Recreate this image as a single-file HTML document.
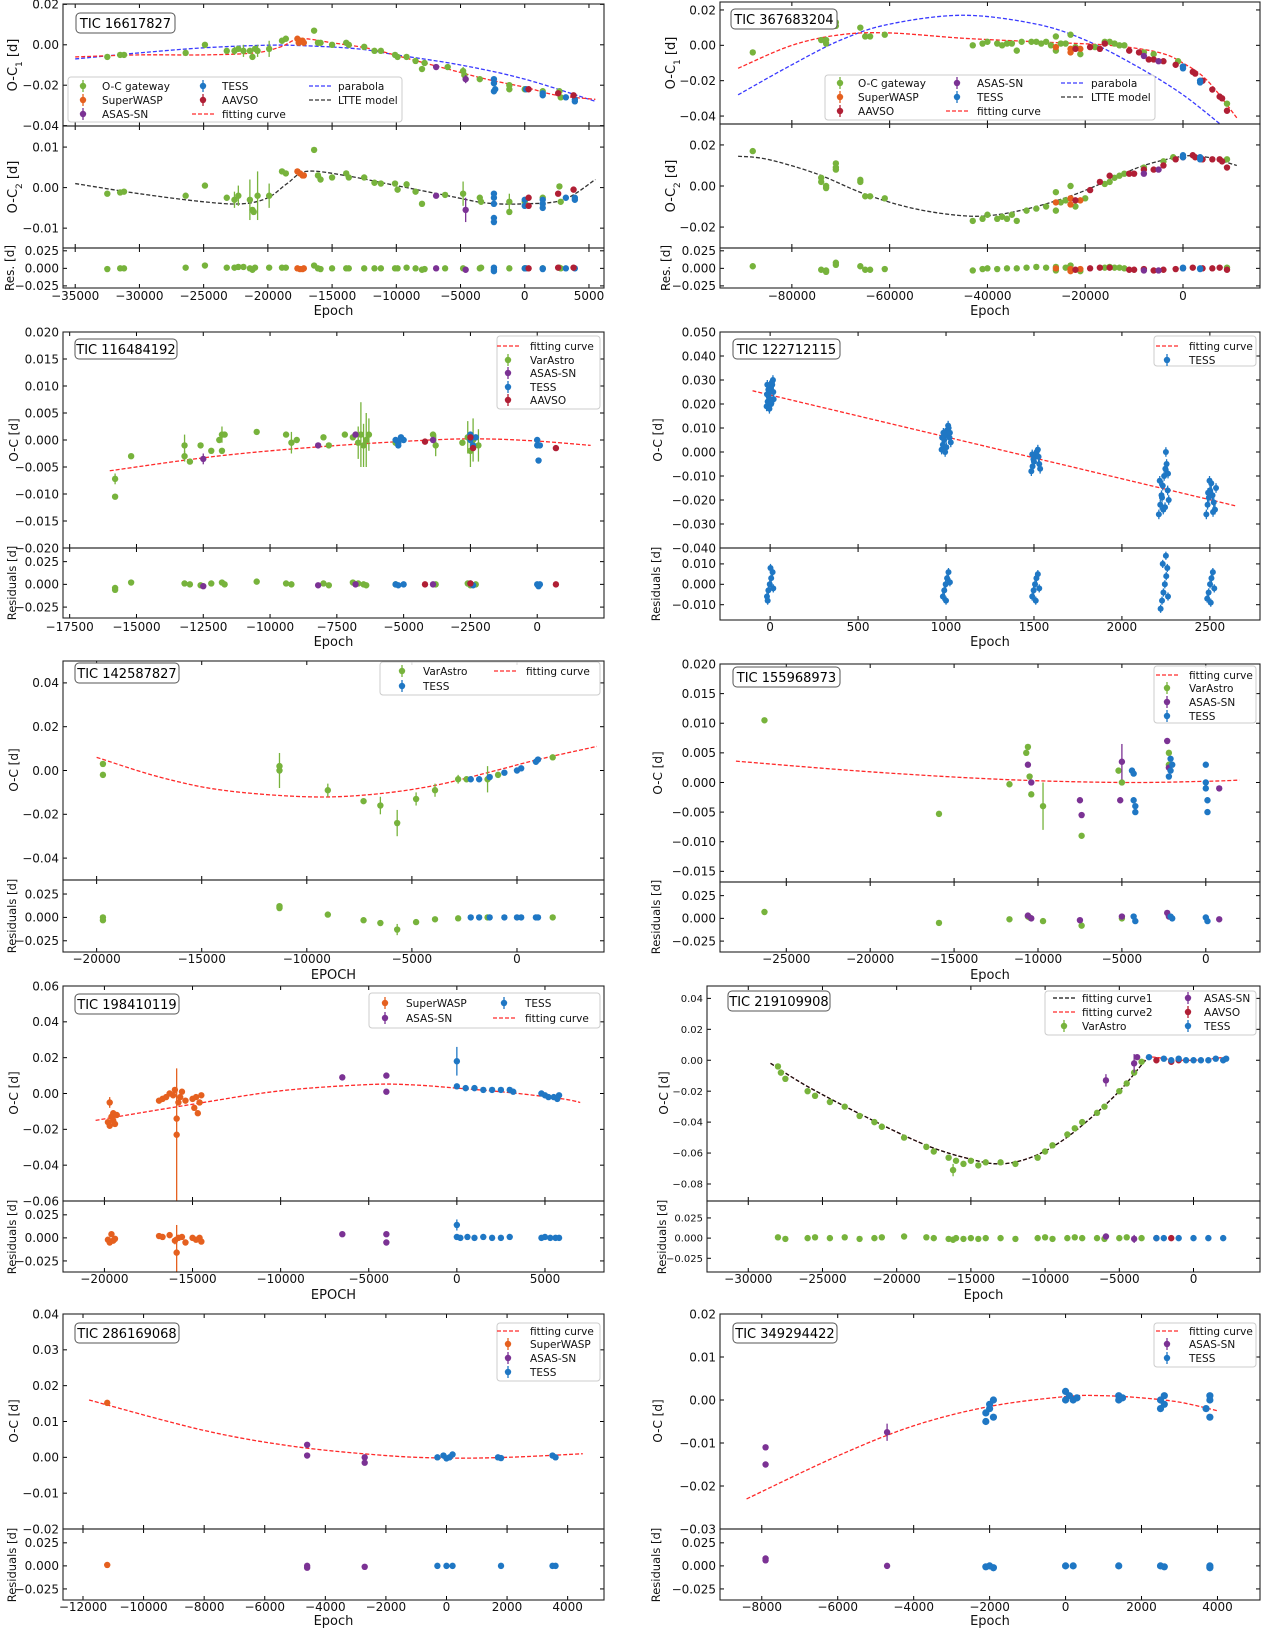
<!DOCTYPE html>
<html><head><meta charset="utf-8"><title>O-C diagrams</title>
<style>
html,body{margin:0;padding:0;background:#fff;}
svg{display:block;font-family:"DejaVu Sans","Liberation Sans",sans-serif;}
</style></head>
<body>
<svg id="fig" width="1262" height="1628" viewBox="0 0 1262 1628" xmlns="http://www.w3.org/2000/svg"><defs id="defs"></defs></svg>
<script>
// ======================= DATA =======================
// Panel 1: TIC 16617827
const p1XTicks=[-35000,-30000,-25000,-20000,-15000,-10000,-5000,0,5000];
const p1TopGateway=[[-32500,-0.006],[-31500,-0.005],[-31200,-0.005],[-26400,-0.004],[-24900,0.0],[-23200,-0.003],[-22600,-0.003,0.002],[-22300,-0.002],[-21900,-0.003,0.003],[-21400,-0.003],[-21200,-0.006],[-21000,-0.002],[-20800,-0.003,0.003],[-19900,-0.002,0.004],[-18900,0.002],[-18600,0.003],[-16400,0.007],[-16100,0.001],[-15900,0.001],[-15000,0.0],[-13900,0.001],[-13700,0.0],[-12500,-0.001],[-11700,-0.003],[-11200,-0.003],[-10100,-0.005],[-9900,-0.006],[-9200,-0.006],[-8500,-0.008],[-8000,-0.012],[-7800,-0.009],[-6000,-0.011],[-4800,-0.013,0.002],[-4700,-0.015],[-3500,-0.017],[-1200,-0.02],[-1200,-0.022],[0,-0.022],[1400,-0.023],[2700,-0.023],[2800,-0.026]];
const p1TopWasp=[[-17700,0.003],[-17500,0.002],[-17300,0.002],[-17200,0.001],[-17600,0.001]];
const p1TopAsas=[[-6900,-0.011],[-4600,-0.017,0.002]];
const p1TopTess=[[-2400,-0.017],[-2400,-0.019],[-2400,-0.023],[-2300,-0.022],[100,-0.022],[1400,-0.024],[1400,-0.025],[3200,-0.026],[3900,-0.027],[3900,-0.028]];
const p1TopAavso=[[300,-0.022],[2600,-0.024],[3800,-0.025]];
const p1Parabola=[[-35000,-0.007],[-30000,-0.004],[-25000,-0.0015],[-20000,-0.0002],[-17000,-0.0005],[-13000,-0.002],[-10000,-0.005],[-5000,-0.01],[0,-0.017],[5500,-0.028]];
const p1Fit=[[-35000,-0.006],[-30000,-0.005],[-25000,-0.005],[-21000,-0.004],[-19000,-0.001],[-17500,0.003],[-15000,0.001],[-12000,-0.002],[-9000,-0.007],[-6000,-0.012],[-3000,-0.017],[0,-0.021],[2500,-0.025],[5500,-0.027]];
const p1MidGateway=[[-32500,-0.0015],[-31500,-0.0012],[-31200,-0.001],[-26400,-0.002],[-24900,0.0005],[-23200,-0.0025],[-22600,-0.003,0.002],[-22300,-0.002,0.0025],[-21400,-0.003,0.005],[-21200,-0.0055],[-21100,-0.006],[-20800,-0.002,0.006],[-19900,-0.002,0.003],[-18900,0.004],[-18600,0.0035],[-16400,0.0093],[-16100,0.003],[-15900,0.002],[-15000,0.0025],[-13900,0.0035],[-13700,0.0025],[-12500,0.0025],[-11700,0.0012],[-11200,0.001],[-10100,0.001],[-9900,-0.0005],[-9200,0.0008],[-8500,-0.001],[-8000,-0.004],[-6200,-0.0018],[-4800,-0.0015,0.003],[-3500,-0.0025],[-3400,-0.0035],[-1200,-0.0035,0.002],[-1200,-0.006],[0,-0.0035],[1400,-0.0025],[2700,0.0003],[2800,-0.0035]];
const p1MidWasp=[[-17700,0.004],[-17500,0.0035],[-17300,0.003],[-17200,0.003]];
const p1MidAsas=[[-6900,-0.002],[-4600,-0.0055,0.003]];
const p1MidTess=[[-2400,-0.0015],[-2400,-0.0025],[-2400,-0.004],[-2400,-0.0075],[-2400,-0.0085],[0,-0.003],[0,-0.0045],[1400,-0.003],[1400,-0.004],[1400,-0.005],[3200,-0.0025],[3900,-0.0025],[3900,-0.003]];
const p1MidAavso=[[300,-0.0025],[300,-0.0045],[2600,-0.0015],[3800,-0.0005]];
const p1Ltte=[[-35000,0.001],[-30000,-0.0015],[-25000,-0.0035],[-22000,-0.004],[-20000,-0.0025],[-18500,0.001],[-17000,0.004],[-14000,0.003],[-10000,0.0005],[-6000,-0.002],[-3000,-0.0038],[0,-0.004],[3000,-0.003],[5500,0.002]];
const p1ResGateway=[[-32500,-0.001],[-31500,0],[-31200,0],[-26400,0.001],[-24900,0.004],[-23200,0.001],[-22600,0.001],[-22300,0.002],[-21900,0.002],[-21400,0],[-21200,-0.002],[-21000,0.001],[-19900,0.001],[-18900,0.001],[-18600,0.001],[-16400,0.004],[-16100,0],[-15900,-0.001],[-15000,0],[-13900,0],[-13700,0],[-12500,0],[-11700,0],[-11200,0],[-10100,0],[-9900,0],[-9200,0.001],[-8500,0],[-8000,-0.002],[-7800,-0.001],[-6200,0],[-4800,0],[-3500,0],[-3400,0.001],[-1200,0],[0,0],[1400,0],[2700,0.001],[2800,0]];
const p1ResWasp=[[-17700,0],[-17500,-0.001],[-17300,-0.001],[-17200,0]];
const p1ResAsas=[[-6900,0],[-4600,-0.002]];
const p1ResTess=[[-2400,0.001],[-2400,-0.002],[-2400,-0.004],[0,0],[100,0],[1400,0],[1400,-0.001],[3200,0],[3900,0]];
const p1ResAavso=[[300,0],[2600,0.001],[3800,0.001]];

// Panel 2: TIC 367683204
const p2XTicks=[-80000,-60000,-40000,-20000,0];
const p2TopGateway=[[-88000,-0.004],[-74000,0.003],[-73000,0.001],[-73000,0.003],[-71000,0.011],[-71000,0.013],[-66000,0.01],[-65000,0.005],[-64000,0.005],[-61000,0.006],[-43000,0.0],[-41000,0.001],[-40000,0.002],[-38000,0.001],[-37000,0.0],[-36000,0.001],[-35000,0.001],[-34000,-0.003],[-33000,0.002],[-31000,0.002],[-30000,0.002],[-29000,0.001],[-28000,0.002],[-27000,0.0],[-26000,0.005],[-26000,-0.003],[-25000,0.001],[-24000,0.001],[-23000,0.006],[-22000,-0.001],[-21000,-0.005],[-18000,-0.001],[-16000,0.002],[-15000,0.002],[-14000,0.001],[-13000,0.0],[-12000,0.0],[-8000,-0.004],[-6000,-0.005],[-1000,-0.009],[9000,-0.033]];
const p2TopWasp=[[-26000,-0.001],[-23000,-0.002],[-23000,-0.004],[-21000,-0.002]];
const p2TopAavso=[[-22000,-0.002],[-19000,-0.001],[-17000,-0.002],[-16000,0.001],[-11000,-0.003],[-9000,-0.004],[-7000,-0.008],[-6000,-0.008],[-4000,-0.009],[-1500,-0.011],[0,-0.012],[2000,-0.015],[2500,-0.016],[4000,-0.02],[6000,-0.025],[7500,-0.029],[8000,-0.03],[9000,-0.037]];
const p2TopAsas=[[-8000,-0.006],[-5000,-0.009]];
const p2TopTess=[[0,-0.012],[0,-0.013],[3500,-0.02],[3500,-0.021]];
const p2Parabola=[[-91000,-0.028],[-80000,-0.011],[-70000,0.003],[-60000,0.012],[-45000,0.017],[-30000,0.012],[-20000,0.003],[-10000,-0.011],[0,-0.028],[10000,-0.05]];
const p2Fit=[[-91000,-0.013],[-80000,0.0],[-70000,0.006],[-60000,0.007],[-45000,0.004],[-30000,0.002],[-15000,0.0],[-5000,-0.004],[0,-0.01],[5000,-0.02],[11000,-0.041]];
const p2MidGateway=[[-88000,0.017],[-74000,0.004],[-74000,0.002],[-73000,0.0],[-73000,-0.001],[-71000,0.011],[-71000,0.009],[-71000,0.008],[-66000,0.003],[-66000,0.002],[-65000,-0.005],[-64000,-0.005],[-61000,-0.006],[-43000,-0.017],[-41000,-0.016],[-40000,-0.014],[-38000,-0.016],[-37000,-0.015],[-36000,-0.016],[-35000,-0.014],[-34000,-0.017],[-32000,-0.012],[-30000,-0.011],[-28000,-0.01],[-26000,-0.012],[-26000,-0.003],[-25000,-0.008],[-24000,-0.007],[-23000,0.0],[-22000,-0.01],[-20000,-0.006],[-16000,0.001],[-15000,0.002],[-14000,0.004],[-13000,0.005],[-12000,0.006],[-8000,0.009],[-4000,0.012],[-2000,0.014],[9000,0.013]];
const p2MidWasp=[[-26000,-0.008],[-23000,-0.006],[-23000,-0.009],[-21000,-0.007]];
const p2MidAavso=[[-22000,-0.007],[-19000,-0.002],[-17000,0.002],[-15000,0.005],[-11000,0.006],[-10000,0.006],[-8000,0.008],[-6000,0.008],[-4000,0.01],[-1500,0.013],[0,0.014],[2000,0.015],[2500,0.014],[4000,0.013],[6000,0.013],[7500,0.013],[8000,0.012],[9000,0.009]];
const p2MidAsas=[[-8000,0.006],[-5000,0.008]];
const p2MidTess=[[0,0.015],[0,0.014],[3500,0.014],[3500,0.013]];
const p2Ltte=[[-91000,0.0145],[-85000,0.013],[-75000,0.006],[-65000,-0.004],[-55000,-0.011],[-45000,-0.0145],[-38000,-0.014],[-30000,-0.01],[-22000,-0.004],[-15000,0.003],[-8000,0.01],[0,0.0145],[5000,0.014],[11000,0.01]];
const p2ResGateway=[[-88000,0.003],[-74000,-0.002],[-73000,-0.003],[-73000,-0.005],[-71000,0.005],[-71000,0.008],[-66000,0.003],[-65000,-0.002],[-64000,-0.002],[-61000,-0.001],[-43000,-0.003],[-41000,-0.001],[-40000,0],[-38000,-0.001],[-36000,0],[-34000,0],[-32000,0.001],[-30000,0.002],[-28000,0.001],[-26000,0.002],[-26000,-0.003],[-24000,0.001],[-23000,0.004],[-21000,-0.004],[-16000,0.001],[-15000,0.002],[-14000,0.001],[-13000,0.001],[-12000,0],[9000,0.001]];
const p2ResWasp=[[-26000,0],[-23000,-0.001],[-23000,-0.004],[-21000,-0.001]];
const p2ResAavso=[[-22000,-0.002],[-19000,0],[-17000,0.001],[-15000,0.001],[-11000,-0.002],[-10000,-0.002],[-8000,-0.001],[-6000,-0.003],[-4000,-0.002],[-1500,-0.001],[0,0],[2000,0.001],[4000,0],[6000,0],[7500,0.001],[9000,-0.002]];
const p2ResAsas=[[-8000,-0.003],[-5000,-0.003]];
const p2ResTess=[[0,0],[0,0.001],[3500,0],[3500,-0.001]];

// Panel 3: TIC 116484192
const p3XTicks=[-17500,-15000,-12500,-10000,-7500,-5000,-2500,0];
const p3VarAstro=[[-15800,-0.0072,0.001],[-15800,-0.0105],[-15200,-0.003],[-13200,-0.001,0.002],[-13200,-0.003,0.001],[-13000,-0.004],[-12600,-0.001],[-12200,-0.002],[-11900,0.0],[-11800,0.001,0.0015],[-11800,-0.002],[-11700,0.001],[-10500,0.0015],[-9400,0.001],[-9200,-0.0005,0.002],[-9000,0.0],[-8000,0.0005],[-7800,-0.001],[-7200,0.001],[-6900,0.0005],[-6700,-0.0005,0.003],[-6600,0.001,0.006],[-6500,-0.001,0.004],[-6400,0.0,0.005],[-6300,0.001,0.003],[-5300,-0.0005],[-3900,0.001],[-3800,-0.001,0.002],[-2800,-0.0005],[-2600,0.0005,0.003],[-2500,-0.002,0.003],[-2400,0.0,0.004],[-2200,-0.001,0.003]];
const p3Asas=[[-12500,-0.0035,0.001],[-8200,-0.001],[-6800,0.001],[-3900,0.0]];
const p3Tess=[[-5300,0.0],[-5200,-0.0005],[-5100,0.0005],[-5000,0.0],[-5200,-0.001],[-2500,0.0],[-2500,0.001],[-2400,-0.001],[-2300,0.0005],[0,0.0],[0,-0.001],[100,-0.001],[50,-0.0038]];
const p3Aavso=[[-4200,-0.0003],[-2500,0.0005],[-2400,-0.0015],[700,-0.0015]];
const p3Fit=[[-16000,-0.0057],[-12000,-0.003],[-8000,-0.0012],[-4000,0.0],[-2000,0.0002],[0,-0.0002],[2000,-0.001]];
const p3ResVarAstro=[[-15800,-0.004],[-15800,-0.006],[-15200,0.002],[-13200,0.001],[-13000,0],[-12600,-0.001],[-12200,0.001],[-11800,0.002],[-11700,0],[-10500,0.003],[-9400,0.001],[-9200,0],[-8000,0.001],[-7800,-0.001],[-6900,0.002],[-6700,0.001],[-6500,0],[-6400,-0.001],[-5300,0],[-3800,0],[-2600,0.001],[-2500,-0.001],[-2300,0]];
const p3ResAsas=[[-12500,-0.002],[-8200,-0.001],[-6800,0],[-3900,0]];
const p3ResTess=[[-5300,0],[-5200,-0.001],[-5000,0],[-2500,0.001],[-2400,-0.001],[0,0],[50,-0.002],[100,0]];
const p3ResAavso=[[-4200,0],[-2500,0.001],[700,0]];

// Panel 4: TIC 122712115
const p4XTicks=[0,500,1000,1500,2000,2500];
const p4Tess=[[-20,0.019,0.002],[-14,0.021,0.002],[-8,0.023,0.002],[-2,0.025,0.002],[4,0.027,0.002],[10,0.029,0.002],[16,0.03,0.002],[20,0.022,0.002],[-18,0.024,0.002],[-10,0.026,0.002],[6,0.02,0.002],[12,0.028,0.002],[-4,0.018,0.002],[18,0.025,0.002],[-16,0.028,0.002],[0,0.021,0.002],
[975,0.001,0.002],[982,0.003,0.002],[990,0.005,0.002],[998,0.007,0.002],[1005,0.009,0.002],[1012,0.011,0.002],[1020,0.006,0.002],[1027,0.004,0.002],[985,0.008,0.002],[1002,0.002,0.002],[1015,0.01,0.002],[995,0.0,0.002],[1022,0.008,0.002],[978,0.006,0.002],
[1485,-0.008,0.002],[1492,-0.006,0.002],[1500,-0.004,0.002],[1508,-0.002,0.002],[1515,0.0,0.002],[1522,0.001,0.002],[1530,-0.005,0.002],[1535,-0.007,0.002],[1497,-0.003,0.002],[1512,-0.001,0.002],[1526,-0.002,0.002],[1490,-0.001,0.002],
[2210,-0.026,0.002],[2218,-0.022,0.002],[2225,-0.018,0.002],[2232,-0.014,0.002],[2240,-0.01,0.002],[2247,-0.007,0.002],[2254,-0.005,0.002],[2260,-0.016,0.002],[2266,-0.02,0.002],[2235,-0.024,0.002],[2250,0.0,0.002],[2215,-0.012,0.002],[2262,-0.009,0.002],[2228,-0.019,0.002],[2245,-0.023,0.002],
[2480,-0.026,0.002],[2487,-0.022,0.002],[2494,-0.019,0.002],[2501,-0.016,0.002],[2508,-0.013,0.002],[2515,-0.018,0.002],[2522,-0.021,0.002],[2529,-0.024,0.002],[2535,-0.015,0.002],[2498,-0.012,0.002],[2518,-0.025,0.002],[2490,-0.017,0.002]];
const p4Fit=[[-100,0.0255],[2650,-0.0225]];
const p4ResTess=[[-18,-0.006,0.002],[-10,-0.003,0.002],[-2,0.0,0.002],[6,0.003,0.002],[14,0.006,0.002],[2,0.008,0.002],[-14,-0.008,0.002],[18,-0.002,0.002],
[982,-0.006,0.002],[990,-0.003,0.002],[998,0.0,0.002],[1006,0.003,0.002],[1014,0.006,0.002],[1000,-0.008,0.002],[1022,0.001,0.002],
[1490,-0.006,0.002],[1498,-0.003,0.002],[1506,0.0,0.002],[1514,0.003,0.002],[1522,0.005,0.002],[1510,-0.008,0.002],[1530,-0.002,0.002],
[2220,-0.012,0.002],[2228,-0.008,0.002],[2236,-0.004,0.002],[2244,0.0,0.002],[2252,0.004,0.002],[2258,0.008,0.002],[2250,0.014,0.002],[2232,0.01,0.002],[2262,-0.006,0.002],
[2485,-0.007,0.002],[2493,-0.004,0.002],[2501,0.0,0.002],[2509,0.003,0.002],[2517,0.006,0.002],[2505,-0.009,0.002],[2525,-0.002,0.002]];

// Panel 5: TIC 142587827
const p5XTicks=[-20000,-15000,-10000,-5000,0];
const p5VarAstro=[[-19700,0.003],[-19700,-0.002],[-11300,0.0,0.008],[-11300,0.002],[-9000,-0.009,0.003],[-7300,-0.014],[-6500,-0.016,0.004],[-5700,-0.024,0.006],[-4800,-0.013,0.003],[-3900,-0.009,0.003],[-2800,-0.004,0.002],[-2400,-0.004],[-1400,-0.004,0.006],[-900,-0.002],[1700,0.006]];
const p5Tess=[[-2200,-0.004],[-1800,-0.004],[-1300,-0.003],[-600,-0.001],[0,0.0],[200,0.001],[900,0.004],[1000,0.005]];
const p5Fit=[[-20000,0.006],[-17000,-0.003],[-14000,-0.009],[-10000,-0.012],[-7000,-0.011],[-4000,-0.007],[-1000,0.0],[1000,0.005],[3800,0.011]];
const p5ResVarAstro=[[-19700,0.0],[-19700,-0.003],[-11300,0.01],[-11300,0.012],[-9000,0.003],[-7300,-0.003],[-6500,-0.006],[-5700,-0.013,0.006],[-4800,-0.005],[-3900,-0.002],[-2800,-0.001],[-1400,0.0],[1700,0.0]];
const p5ResTess=[[-2200,0],[-1800,0],[-1300,0],[-600,0],[0,0],[200,0],[900,0],[1000,0]];

// Panel 6: TIC 155968973
const p6XTicks=[-25000,-20000,-15000,-10000,-5000,0];
const p6VarAstro=[[-26300,0.0105],[-15900,-0.0053],[-11700,-0.0003],[-10700,0.005],[-10600,0.006],[-10500,0.001],[-10400,-0.002],[-9700,-0.004,0.004],[-7400,-0.009],[-5200,0.002],[-5000,0.0],[-2200,0.003],[-2200,0.005]];
const p6Asas=[[-10600,0.003],[-10400,0.0],[-7500,-0.003],[-7400,-0.0055],[-5100,-0.003],[-5000,0.0035,0.003],[-2300,0.007],[-2200,0.0025],[800,-0.001]];
const p6Tess=[[-4400,0.002],[-4300,0.0015],[-4300,-0.003],[-4200,-0.004],[-4200,-0.005],[-2200,0.001],[-2100,0.004],[-2100,0.002],[-2000,0.003],[0,0.003],[0,-0.001],[100,-0.003],[100,-0.005],[0,0.0]];
const p6Fit=[[-28000,0.0036],[-20000,0.0018],[-12000,0.0005],[-5000,0.0],[0,0.0002],[2000,0.0004]];
const p6ResVarAstro=[[-26300,0.007],[-15900,-0.005],[-11700,-0.001],[-10600,0.002],[-10500,0.001],[-9700,-0.003],[-7400,-0.008],[-5000,0]];
const p6ResAsas=[[-10600,0.003],[-10400,0],[-7500,-0.002],[-5000,0.002],[-2300,0.006],[-2200,0.002],[800,-0.001]];
const p6ResTess=[[-4300,0.002],[-4200,-0.003],[-2100,0.002],[-2000,0],[0,0.001],[100,-0.003]];

// Panel 7: TIC 198410119
const p7XTicks=[-20000,-15000,-10000,-5000,0,5000];
const p7Wasp=[[-19800,-0.016],[-19700,-0.018],[-19700,-0.005,0.003],[-19600,-0.013],[-19500,-0.015],[-19400,-0.017],[-19300,-0.012],[-19500,-0.011],[-16900,-0.004],[-16700,-0.003],[-16500,-0.002],[-16300,0.0],[-16100,-0.001],[-16000,0.002],[-15900,-0.023,0.037],[-15900,-0.014],[-15800,-0.005],[-15700,-0.002],[-15600,0.001],[-15400,-0.004],[-15000,-0.003],[-14900,-0.008],[-14800,-0.002],[-14700,-0.011],[-14600,-0.005],[-14500,-0.001]];
const p7Asas=[[-6500,0.009],[-4000,0.01],[-4000,0.001]];
const p7Tess=[[0,0.018,0.008],[0,0.004],[500,0.003],[1000,0.003],[1500,0.002],[2000,0.002],[2500,0.002],[3000,0.002],[3200,0.001],[4800,0.0],[5000,-0.001],[5200,-0.002],[5500,-0.002],[5700,-0.003],[5800,-0.001]];
const p7Fit=[[-20500,-0.015],[-15000,-0.006],[-10000,0.0015],[-5000,0.005],[-2500,0.0048],[0,0.003],[3000,0.0005],[6000,-0.003],[7000,-0.005]];
const p7ResWasp=[[-19800,-0.002],[-19700,-0.005],[-19600,0.004],[-19500,-0.003],[-19400,-0.001],[-16900,0.002],[-16700,0.001],[-16300,0.003],[-16000,-0.003,0.004],[-15900,-0.016,0.03],[-15800,0],[-15600,0.001],[-15400,-0.005],[-15000,0],[-14800,-0.002],[-14600,0],[-14500,-0.004]];
const p7ResAsas=[[-6500,0.004],[-4000,0.004],[-4000,-0.005]];
const p7ResTess=[[0,0.014,0.006],[0,0.001],[200,0],[600,0.001],[1000,0],[1500,0.001],[2000,0],[2500,0],[3000,0.001],[4800,0],[5000,0.001],[5300,0],[5600,0],[5800,0]];

// Panel 8: TIC 219109908
const p8XTicks=[-30000,-25000,-20000,-15000,-10000,-5000,0];
const p8VarAstro=[[-28000,-0.004],[-27800,-0.008],[-27500,-0.012],[-26000,-0.02],[-25500,-0.023],[-24500,-0.027],[-23500,-0.03],[-22500,-0.036],[-21500,-0.04],[-21000,-0.043],[-19500,-0.05],[-18000,-0.056],[-17500,-0.059],[-16500,-0.063],[-16000,-0.065],[-15500,-0.067],[-15000,-0.065],[-14500,-0.068],[-14000,-0.066],[-16200,-0.071,0.004],[-13000,-0.066],[-12000,-0.067],[-10500,-0.063],[-10000,-0.059],[-9500,-0.055],[-8500,-0.048],[-8000,-0.044],[-7500,-0.04],[-6500,-0.034],[-6000,-0.03],[-5000,-0.02],[-4500,-0.015],[-4000,-0.008],[-3500,-0.001]];
const p8Asas=[[-5900,-0.013,0.004],[-4000,-0.002,0.006],[-3800,0.002]];
const p8Aavso=[[-2500,0.0],[-1500,-0.001],[-1000,0.0]];
const p8Tess=[[-3000,0.002],[-2000,0.001],[-1500,0.0],[-1000,0.001],[-500,0.0],[0,0.0],[500,0.0],[1000,0.0],[1500,0.001],[2000,0.0],[2200,0.001]];
const p8Fit1=[[-28500,-0.002],[-26000,-0.017],[-22000,-0.037],[-18000,-0.055],[-15000,-0.064],[-13000,-0.067],[-11000,-0.063],[-9000,-0.053],[-7000,-0.038],[-5000,-0.02],[-3500,-0.003],[-3000,0.002]];
const p8Fit2=[[-28500,-0.002],[-26000,-0.017],[-22000,-0.037],[-18000,-0.055],[-15000,-0.064],[-13000,-0.067],[-11000,-0.063],[-9000,-0.053],[-7000,-0.038],[-5000,-0.02],[-3500,-0.003],[-3000,0.002],[-1500,0.0005],[0,0.0],[2200,0.002]];
const p8ResVarAstro=[[-28000,0.001],[-27500,-0.001],[-26000,0.0],[-25500,0.001],[-24500,0.0],[-23500,0.001],[-22500,-0.001],[-21500,0.0],[-21000,0.001],[-19500,0.002],[-18000,0.001],[-17500,0.0],[-16500,-0.001],[-16200,-0.002,0.004],[-16000,0.0],[-15500,-0.001],[-15000,0.0],[-14500,-0.001],[-14000,0.0],[-13000,0.0],[-12000,-0.001],[-10500,0.0],[-10000,0.001],[-9500,-0.001],[-8500,0.0],[-8000,0.001],[-7500,0.0],[-6500,0.0],[-6000,-0.001],[-5000,0.0],[-4500,0.001],[-3500,0.0]];
const p8ResAsas=[[-5900,0.002],[-4000,-0.001,0.005]];
const p8ResAavso=[[-2500,0],[-1500,0]];
const p8ResTess=[[-2500,0],[-2000,0],[-1000,0],[0,0],[1000,0],[2000,0]];

// Panel 9: TIC 286169068
const p9XTicks=[-12000,-10000,-8000,-6000,-4000,-2000,0,2000,4000];
const p9Wasp=[[-11200,0.0152]];
const p9Asas=[[-4600,0.0035],[-4600,0.0005],[-2700,0.0],[-2700,-0.0015]];
const p9Tess=[[-300,0.0],[-100,0.0005],[0,-0.0003],[100,0.0],[200,0.0008],[1700,0.0],[1800,-0.0002],[3500,0.0005],[3600,0.0]];
const p9Fit=[[-11800,0.016],[-8000,0.0075],[-5000,0.003],[-2000,0.0005],[0,-0.0002],[2000,0.0],[4500,0.001]];
const p9ResWasp=[[-11200,0.001]];
const p9ResAsas=[[-4600,0.0],[-4600,-0.002],[-2700,-0.001]];
const p9ResTess=[[-300,0],[0,0],[200,0],[1800,0],[3500,0],[3600,0]];

// Panel 10: TIC 349294422
const p10XTicks=[-8000,-6000,-4000,-2000,0,2000,4000];
const p10Asas=[[-7900,-0.011],[-7900,-0.015],[-4700,-0.0075,0.002]];
const p10Tess=[[-2100,-0.005],[-2100,-0.003],[-2000,-0.002],[-2000,-0.001],[-1900,0.0],[-1900,-0.004],[0,0.0],[0,0.002],[100,0.001],[200,0.0],[300,0.0005],[1400,0.001],[1400,0.0],[1500,0.0005],[2500,-0.002],[2500,0.0],[2600,0.001],[2600,-0.001],[3700,-0.002],[3800,-0.004],[3800,0.0],[3800,0.001]];
const p10Fit=[[-8400,-0.023],[-6000,-0.013],[-4000,-0.006],[-2000,-0.0015],[0,0.0008],[1000,0.001],[2000,0.0005],[3000,-0.0005],[4000,-0.0025]];
const p10ResAsas=[[-7900,0.008],[-7900,0.006],[-4700,0]];
const p10ResTess=[[-2100,-0.001],[-2000,0],[-1900,-0.002],[0,0],[200,0],[1400,0],[2500,0],[2600,-0.001],[3800,0],[3800,-0.002]];

// ======================= DRAWING =======================
const NS='http://www.w3.org/2000/svg';
const svg=document.getElementById('fig');
const defs=document.getElementById('defs');
const C={g:'#77b33c',o:'#e5601f',p:'#7b3294',b:'#1f77c4',r:'#b01f35',fit:'#ff2a2a',par:'#3a3aff',lt:'#333333'};
let clipN=0;
function mk(tag,attrs,parent){const e=document.createElementNS(NS,tag);for(const k in attrs)e.setAttribute(k,attrs[k]);(parent||svg).appendChild(e);return e;}
function lin(d0,d1,r0,r1){return v=>r0+(v-d0)/(d1-d0)*(r1-r0);}
function fmt(v,dec){const s=Math.abs(v).toFixed(dec);return (v<-1e-12?'\u2212':'')+s;}

function axes(P,y0,y1,ylim,yticks,ydec,name,tfs){
  const sx=lin(P.xlim[0],P.xlim[1],P.x0,P.x1);
  const sy=lin(ylim[0],ylim[1],y1,y0);
  const g=mk('g',{});
  
  
  const id='clip'+(clipN++);
  const cp=mk('clipPath',{id:id},defs);
  mk('rect',{x:P.x0,y:y0,width:P.x1-P.x0,height:y1-y0},cp);
  const plot=mk('g',{'clip-path':'url(#'+id+')'},g);
  
  
  const fs=tfs||12;
  yticks.forEach(t=>{
    const y=sy(t);
    mk('line',{x1:P.x0,x2:P.x0+4,y1:y,y2:y,stroke:'#000','stroke-width':1},g);
    mk('line',{x1:P.x1,x2:P.x1-4,y1:y,y2:y,stroke:'#000','stroke-width':1},g);
    const tx=mk('text',{x:P.x0-4,y:y+fs*0.36,'text-anchor':'end','font-size':fs,fill:'#111'},g);
    tx.textContent=fmt(t,ydec);
    
    
  });
  P.xticks.forEach(t=>{
    const x=sx(t);
    if(x<P.x0||x>P.x1)return;
    mk('line',{x1:x,x2:x,y1:y1,y2:y1-4,stroke:'#000','stroke-width':1},g);
    mk('line',{x1:x,x2:x,y1:y0,y2:y0+4,stroke:'#000','stroke-width':1},g);
  });
  return {sx,sy,plot,g,y0,y1,P};
}
function frame(ax){
  const r=mk('rect',{x:ax.P.x0,y:ax.y0,width:ax.P.x1-ax.P.x0,height:ax.y1-ax.y0,fill:'none',stroke:'#222','stroke-width':1.1},ax.g);
  
  
}
function xlabels(ax,by,label,ly){
  ax.P.xticks.forEach(t=>{
    const x=ax.sx(t);
    if(x<ax.P.x0-2||x>ax.P.x1+2)return;
    const tx=mk('text',{x:x,y:by,'text-anchor':'middle','font-size':12,fill:'#111'},ax.g);
    tx.textContent=fmt(t,0);
    
    
  });
  const l=mk('text',{x:(ax.P.x0+ax.P.x1)/2,y:ly,'text-anchor':'middle','font-size':13,fill:'#111'},ax.g);
  l.textContent=label;
  
  
}
function ylabel(x,yc,html,fs,name){
  const t=mk('text',{x:0,y:0,transform:'translate('+x+','+yc+') rotate(-90)','text-anchor':'middle','font-size':fs||13,fill:'#111'});
  t.innerHTML=html;
  
  
}
function pts(ax,data,color,name,r){
  const rad=r||3.2;
  data.forEach(d=>{
    const x=ax.sx(d[0]),y=ax.sy(d[1]);
    if(d[2]){
      const e=mk('line',{x1:x,x2:x,y1:ax.sy(d[1]-d[2]),y2:ax.sy(d[1]+d[2]),stroke:color,'stroke-width':1.3},ax.plot);
      
      
    }
    const c=mk('circle',{cx:x,cy:y,r:rad,fill:color},ax.plot);
    
    
  });
}
function curve(ax,data,color,name){
  const p=data.map(d=>[ax.sx(d[0]),ax.sy(d[1])]);
  let s='M'+p[0][0]+','+p[0][1];
  for(let i=0;i<p.length-1;i++){
    const a=p[i-1]||p[i],b=p[i],c=p[i+1],d=p[i+2]||c;
    const c1=[b[0]+(c[0]-a[0])/6,b[1]+(c[1]-a[1])/6],c2=[c[0]-(d[0]-b[0])/6,c[1]-(d[1]-b[1])/6];
    s+=' C'+c1[0]+','+c1[1]+' '+c2[0]+','+c2[1]+' '+c[0]+','+c[1];
  }
  const e=mk('path',{d:s,fill:'none',stroke:color,'stroke-width':1.3,'stroke-dasharray':'4 2'},ax.plot);
  
  
}
function ticBox(x,y,w,label){
  const g=mk('g',{});
  
  
  mk('rect',{x:x,y:y,width:w,height:20,rx:4,fill:'#fff',stroke:'#555','stroke-width':1},g);
  const t=mk('text',{x:x+w/2,y:y+15,'text-anchor':'middle','font-size':13,fill:'#000'},g);
  t.textContent=label;
}
function legend(box,items){
  const g=mk('g',{});
  
  
  mk('rect',{x:box[0],y:box[1],width:box[2],height:box[3],rx:3,fill:'#fff','fill-opacity':0.85,stroke:'#ccc','stroke-width':1},g);
  items.forEach(it=>{
    const [kind,color,label,x,y,tx]=it;
    const eg=mk('g',{},g);
    
    
    if(kind==='line'){
      mk('line',{x1:x-11,x2:x+11,y1:y,y2:y,stroke:color,'stroke-width':1.3,'stroke-dasharray':'4 2'},eg);
    }else{
      mk('line',{x1:x,x2:x,y1:y-6,y2:y+6,stroke:color,'stroke-width':1.3},eg);
      mk('circle',{cx:x,cy:y,r:3.2,fill:color},eg);
    }
    const t=mk('text',{x:tx,y:y+4,'font-size':10.5,fill:'#111'},eg);
    t.textContent=label;
  });
}

// ---------- Panel 1 ----------
(function(){
  const P={x0:63,x1:604,xlim:[-35950,6170],xticks:p1XTicks};
  const a=axes(P,4,126,[-0.0402,0.0202],[0.02,0,-0.02,-0.04],2,'p1-oc1-axes');
  curve(a,p1Parabola,C.par,'parabola-curve');curve(a,p1Fit,C.fit,'fitting-curve');
  pts(a,p1TopGateway,C.g,'oc-gateway');pts(a,p1TopWasp,C.o,'superwasp');pts(a,p1TopAsas,C.p,'asas-sn');pts(a,p1TopTess,C.b,'tess');pts(a,p1TopAavso,C.r,'aavso');frame(a);
  const b=axes(P,126,248,[-0.0149,0.0152],[0.01,0,-0.01],2,'p1-oc2-axes');
  curve(b,p1Ltte,C.lt,'ltte-curve');
  pts(b,p1MidGateway,C.g,'oc-gateway');pts(b,p1MidWasp,C.o,'superwasp');pts(b,p1MidAsas,C.p,'asas-sn');pts(b,p1MidTess,C.b,'tess');pts(b,p1MidAavso,C.r,'aavso');frame(b);
  const c=axes(P,248,288,[-0.028,0.029],[0.025,0,-0.025],3,'p1-residual-axes');
  pts(c,p1ResGateway,C.g,'oc-gateway');pts(c,p1ResWasp,C.o,'superwasp');pts(c,p1ResAsas,C.p,'asas-sn');pts(c,p1ResTess,C.b,'tess');pts(c,p1ResAavso,C.r,'aavso');frame(c);
  xlabels(c,300,'Epoch',315);
  ylabel(17,65,'O-C<tspan baseline-shift="sub" font-size="9">1</tspan> [d]',13,'y-axis-title');
  ylabel(17,187,'O-C<tspan baseline-shift="sub" font-size="9">2</tspan> [d]',13,'y-axis-title');
  ylabel(14,268,'Res. [d]',12,'y-axis-title');
  ticBox(76,13,99,'TIC 16617827');
  legend([68,77,334,45],[['mark',C.g,'O-C gateway',83,86,102],['mark',C.o,'SuperWASP',83,100,102],['mark',C.p,'ASAS-SN',83,114,102],
    ['mark',C.b,'TESS',203,86,222],['mark',C.r,'AAVSO',203,100,222],['line',C.fit,'fitting curve',203,114,222],
    ['line',C.par,'parabola',320,86,338],['line',C.lt,'LTTE model',320,100,338]]);
})();

// ---------- Panel 2 ----------
(function(){
  const P={x0:720,x1:1260,xlim:[-94700,15750],xticks:p2XTicks};
  const a=axes(P,2,124,[-0.0445,0.0245],[0.02,0,-0.02,-0.04],2,'p2-oc1-axes');
  curve(a,p2Parabola,C.par,'parabola-curve');curve(a,p2Fit,C.fit,'fitting-curve');
  pts(a,p2TopGateway,C.g,'oc-gateway');pts(a,p2TopWasp,C.o,'superwasp');pts(a,p2TopAavso,C.r,'aavso');pts(a,p2TopAsas,C.p,'asas-sn');pts(a,p2TopTess,C.b,'tess');frame(a);
  const b=axes(P,124,248,[-0.0302,0.0302],[0.02,0,-0.02],2,'p2-oc2-axes');
  curve(b,p2Ltte,C.lt,'ltte-curve');
  pts(b,p2MidGateway,C.g,'oc-gateway');pts(b,p2MidWasp,C.o,'superwasp');pts(b,p2MidAavso,C.r,'aavso');pts(b,p2MidAsas,C.p,'asas-sn');pts(b,p2MidTess,C.b,'tess');frame(b);
  const c=axes(P,248,288,[-0.028,0.029],[0.025,0,-0.025],3,'p2-residual-axes');
  pts(c,p2ResGateway,C.g,'oc-gateway');pts(c,p2ResWasp,C.o,'superwasp');pts(c,p2ResAavso,C.r,'aavso');pts(c,p2ResAsas,C.p,'asas-sn');pts(c,p2ResTess,C.b,'tess');frame(c);
  xlabels(c,300,'Epoch',315);
  ylabel(675,63,'O-C<tspan baseline-shift="sub" font-size="9">1</tspan> [d]',13,'y-axis-title');
  ylabel(675,186,'O-C<tspan baseline-shift="sub" font-size="9">2</tspan> [d]',13,'y-axis-title');
  ylabel(670,268,'Res. [d]',12,'y-axis-title');
  ticBox(731,9,106,'TIC 367683204');
  legend([825,75,330,45],[['mark',C.g,'O-C gateway',840,83,858],['mark',C.o,'SuperWASP',840,97,858],['mark',C.r,'AAVSO',840,111,858],
    ['mark',C.p,'ASAS-SN',957,83,977],['mark',C.b,'TESS',957,97,977],['line',C.fit,'fitting curve',957,111,977],
    ['line',C.par,'parabola',1072,83,1091],['line',C.lt,'LTTE model',1072,97,1091]]);
})();

// ---------- Panel 3 ----------
(function(){
  const P={x0:63,x1:604,xlim:[-17750,2500],xticks:p3XTicks};
  const a=axes(P,332,548,[-0.02,0.02],[0.02,0.015,0.01,0.005,0,-0.005,-0.01,-0.015,-0.02],3,'p3-oc-axes');
  curve(a,p3Fit,C.fit,'fitting-curve');
  pts(a,p3VarAstro,C.g,'varastro');pts(a,p3Asas,C.p,'asas-sn');pts(a,p3Tess,C.b,'tess');pts(a,p3Aavso,C.r,'aavso');frame(a);
  const c=axes(P,548,618,[-0.037,0.04],[0.025,0,-0.025],3,'p3-residual-axes');
  pts(c,p3ResVarAstro,C.g,'varastro');pts(c,p3ResAsas,C.p,'asas-sn');pts(c,p3ResTess,C.b,'tess');pts(c,p3ResAavso,C.r,'aavso');frame(c);
  xlabels(c,631,'Epoch',646);
  ylabel(18,440,'O-C [d]',12,'y-axis-title');
  ylabel(16,583,'Residuals [d]',11.5,'y-axis-title');
  ticBox(75,339,102,'TIC 116484192');
  legend([497,336,103,73],[['line',C.fit,'fitting curve',508,346,530],['mark',C.g,'VarAstro',508,360,530],['mark',C.p,'ASAS-SN',508,373,530],['mark',C.b,'TESS',508,387,530],['mark',C.r,'AAVSO',508,400,530]]);
})();

// ---------- Panel 4 ----------
(function(){
  const P={x0:720,x1:1260,xlim:[-285,2785],xticks:p4XTicks};
  const a=axes(P,332,548,[-0.04,0.05],[0.05,0.04,0.03,0.02,0.01,0,-0.01,-0.02,-0.03,-0.04],3,'p4-oc-axes');
  curve(a,p4Fit,C.fit,'fitting-curve');
  pts(a,p4Tess,C.b,'tess',3);frame(a);
  const c=axes(P,548,620,[-0.0175,0.0178],[0.01,0,-0.01],3,'p4-residual-axes');
  pts(c,p4ResTess,C.b,'tess',3);frame(c);
  xlabels(c,631,'Epoch',646);
  ylabel(662,440,'O-C [d]',12,'y-axis-title');
  ylabel(660,584,'Residuals [d]',11.5,'y-axis-title');
  ticBox(733,339,107,'TIC 122712115');
  legend([1154,336,102,30],[['line',C.fit,'fitting curve',1167,346,1189],['mark',C.b,'TESS',1167,360,1189]]);
})();

// ---------- Panel 5 ----------
(function(){
  const P={x0:63,x1:604,xlim:[-21600,4140],xticks:p5XTicks};
  const a=axes(P,661,880,[-0.05,0.05],[0.04,0.02,0,-0.02,-0.04],2,'p5-oc-axes');
  curve(a,p5Fit,C.fit,'fitting-curve');
  pts(a,p5VarAstro,C.g,'varastro');pts(a,p5Tess,C.b,'tess');frame(a);
  const c=axes(P,880,952,[-0.037,0.04],[0.025,0,-0.025],3,'p5-residual-axes');
  pts(c,p5ResVarAstro,C.g,'varastro');pts(c,p5ResTess,C.b,'tess');frame(c);
  xlabels(c,963,'EPOCH',979);
  ylabel(18,770,'O-C [d]',12,'y-axis-title');
  ylabel(16,916,'Residuals [d]',11.5,'y-axis-title');
  ticBox(75,663,104,'TIC 142587827');
  legend([380,662,220,33],[['mark',C.g,'VarAstro',402,671,423],['mark',C.b,'TESS',402,686,423],['line',C.fit,'fitting curve',505,671,526]]);
})();

// ---------- Panel 6 ----------
(function(){
  const P={x0:720,x1:1260,xlim:[-28950,3230],xticks:p6XTicks};
  const a=axes(P,664,882,[-0.0168,0.02],[0.02,0.015,0.01,0.005,0,-0.005,-0.01,-0.015],3,'p6-oc-axes');
  curve(a,p6Fit,C.fit,'fitting-curve');
  pts(a,p6VarAstro,C.g,'varastro');pts(a,p6Asas,C.p,'asas-sn');pts(a,p6Tess,C.b,'tess');frame(a);
  const c=axes(P,882,952,[-0.037,0.04],[0.025,0,-0.025],3,'p6-residual-axes');
  pts(c,p6ResVarAstro,C.g,'varastro');pts(c,p6ResAsas,C.p,'asas-sn');pts(c,p6ResTess,C.b,'tess');frame(c);
  xlabels(c,963,'Epoch',979);
  ylabel(662,773,'O-C [d]',12,'y-axis-title');
  ylabel(660,917,'Residuals [d]',11.5,'y-axis-title');
  ticBox(733,667,107,'TIC 155968973');
  legend([1154,666,102,57],[['line',C.fit,'fitting curve',1167,675,1189],['mark',C.g,'VarAstro',1167,688,1189],['mark',C.p,'ASAS-SN',1167,702,1189],['mark',C.b,'TESS',1167,716,1189]]);
})();

// ---------- Panel 7 ----------
(function(){
  const P={x0:63,x1:604,xlim:[-22350,8350],xticks:p7XTicks};
  const a=axes(P,986,1201,[-0.06,0.06],[0.06,0.04,0.02,0,-0.02,-0.04,-0.06],2,'p7-oc-axes');
  curve(a,p7Fit,C.fit,'fitting-curve');
  pts(a,p7Wasp,C.o,'superwasp');pts(a,p7Asas,C.p,'asas-sn');pts(a,p7Tess,C.b,'tess');frame(a);
  const c=axes(P,1201,1272,[-0.037,0.04],[0.025,0,-0.025],3,'p7-residual-axes');
  pts(c,p7ResWasp,C.o,'superwasp');pts(c,p7ResAsas,C.p,'asas-sn');pts(c,p7ResTess,C.b,'tess');frame(c);
  xlabels(c,1283,'EPOCH',1299);
  ylabel(18,1093,'O-C [d]',12,'y-axis-title');
  ylabel(16,1237,'Residuals [d]',11.5,'y-axis-title');
  ticBox(75,994,104,'TIC 198410119');
  legend([369,993,231,35],[['mark',C.o,'SuperWASP',385,1003,406],['mark',C.p,'ASAS-SN',385,1018,406],['mark',C.b,'TESS',504,1003,525],['line',C.fit,'fitting curve',504,1018,525]]);
})();

// ---------- Panel 8 ----------
(function(){
  const P={x0:707,x1:1260,xlim:[-32780,4480],xticks:p8XTicks};
  const a=axes(P,986,1201,[-0.091,0.048],[0.04,0.02,0,-0.02,-0.04,-0.06,-0.08],2,'p8-oc-axes',10);
  curve(a,p8Fit2,C.fit,'fitting-curve-2');curve(a,p8Fit1,'#111','fitting-curve-1');
  pts(a,p8VarAstro,C.g,'varastro');pts(a,p8Asas,C.p,'asas-sn');pts(a,p8Aavso,C.r,'aavso');pts(a,p8Tess,C.b,'tess');frame(a);
  const c=axes(P,1201,1272,[-0.042,0.046],[0.025,0,-0.025],3,'p8-residual-axes',10);
  pts(c,p8ResVarAstro,C.g,'varastro');pts(c,p8ResAsas,C.p,'asas-sn');pts(c,p8ResAavso,C.r,'aavso');pts(c,p8ResTess,C.b,'tess');frame(c);
  xlabels(c,1283,'Epoch',1299);
  ylabel(668,1093,'O-C [d]',12,'y-axis-title');
  ylabel(666,1237,'Residuals [d]',11.5,'y-axis-title');
  ticBox(728,991,102,'TIC 219109908');
  legend([1045,991,211,44],[['line','#111','fitting curve1',1064,998,1082],['line',C.fit,'fitting curve2',1064,1012,1082],['mark',C.g,'VarAstro',1064,1026,1082],
    ['mark',C.p,'ASAS-SN',1188,998,1204],['mark',C.r,'AAVSO',1188,1012,1204],['mark',C.b,'TESS',1188,1026,1204]]);
})();

// ---------- Panel 9 ----------
(function(){
  const P={x0:63,x1:604,xlim:[-12660,5200],xticks:p9XTicks};
  const a=axes(P,1314,1529,[-0.02,0.04],[0.04,0.03,0.02,0.01,0,-0.01,-0.02],2,'p9-oc-axes');
  curve(a,p9Fit,C.fit,'fitting-curve');
  pts(a,p9Wasp,C.o,'superwasp');pts(a,p9Asas,C.p,'asas-sn');pts(a,p9Tess,C.b,'tess');frame(a);
  const c=axes(P,1529,1600,[-0.037,0.04],[0.025,0,-0.025],3,'p9-residual-axes');
  pts(c,p9ResWasp,C.o,'superwasp');pts(c,p9ResAsas,C.p,'asas-sn');pts(c,p9ResTess,C.b,'tess');frame(c);
  xlabels(c,1611,'Epoch',1625);
  ylabel(18,1421,'O-C [d]',12,'y-axis-title');
  ylabel(16,1565,'Residuals [d]',11.5,'y-axis-title');
  ticBox(75,1323,104,'TIC 286169068');
  legend([497,1323,103,58],[['line',C.fit,'fitting curve',508,1331,530],['mark',C.o,'SuperWASP',508,1344,530],['mark',C.p,'ASAS-SN',508,1358,530],['mark',C.b,'TESS',508,1372,530]]);
})();

// ---------- Panel 10 ----------
(function(){
  const P={x0:720,x1:1260,xlim:[-9100,5120],xticks:p10XTicks};
  const a=axes(P,1314,1529,[-0.03,0.02],[0.02,0.01,0,-0.01,-0.02,-0.03],2,'p10-oc-axes');
  curve(a,p10Fit,C.fit,'fitting-curve');
  pts(a,p10Asas,C.p,'asas-sn');pts(a,p10Tess,C.b,'tess',3.6);frame(a);
  const c=axes(P,1529,1600,[-0.037,0.04],[0.025,0,-0.025],3,'p10-residual-axes');
  pts(c,p10ResAsas,C.p,'asas-sn');pts(c,p10ResTess,C.b,'tess',3.6);frame(c);
  xlabels(c,1611,'Epoch',1625);
  ylabel(662,1421,'O-C [d]',12,'y-axis-title');
  ylabel(660,1565,'Residuals [d]',11.5,'y-axis-title');
  ticBox(733,1323,104,'TIC 349294422');
  legend([1154,1323,102,44],[['line',C.fit,'fitting curve',1167,1331,1189],['mark',C.p,'ASAS-SN',1167,1344,1189],['mark',C.b,'TESS',1167,1358,1189]]);
})();
</script>
</body></html>
